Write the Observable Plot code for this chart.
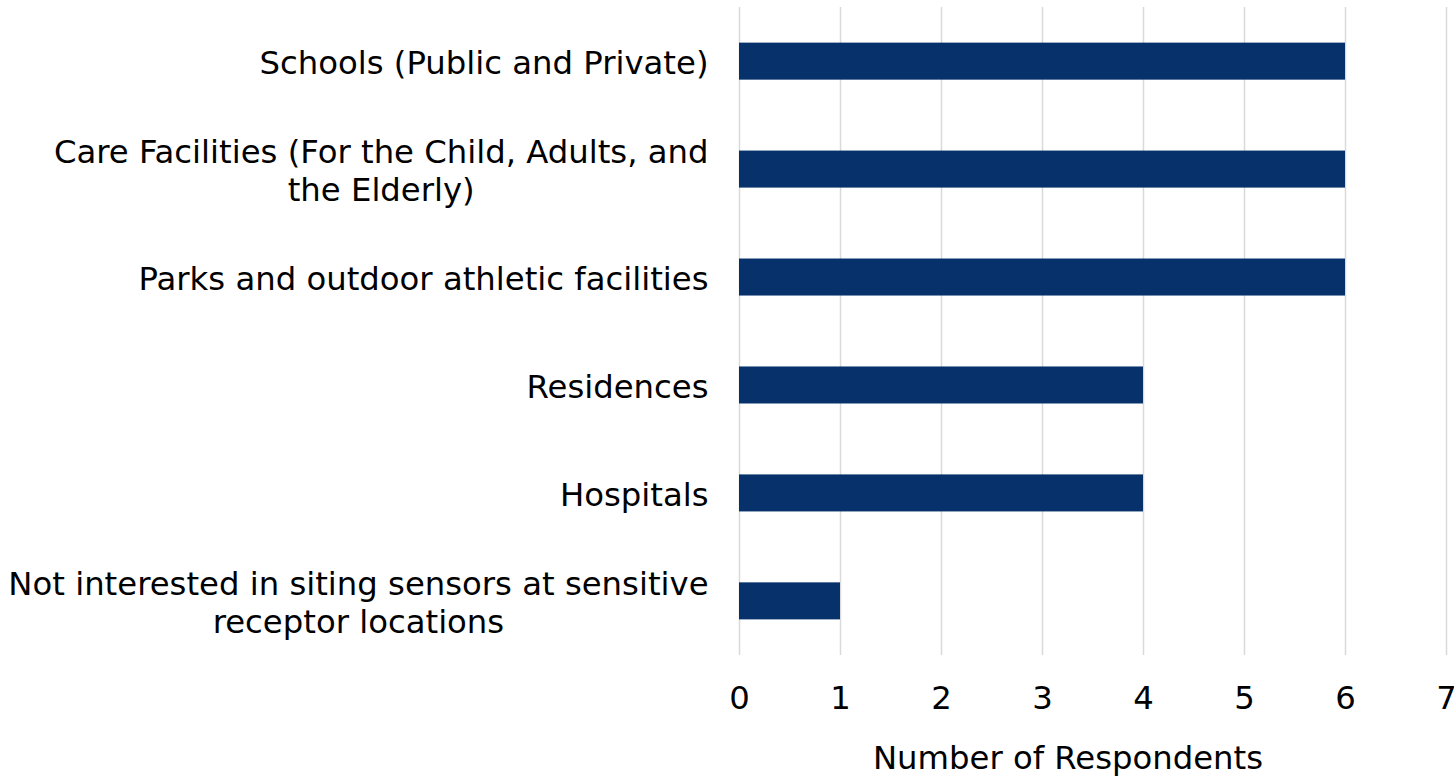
<!DOCTYPE html>
<html>
<head>
<meta charset="utf-8">
<script src="https://cdn.jsdelivr.net/npm/d3@7"></script>
<script src="https://cdn.jsdelivr.net/npm/@observablehq/plot@0.6"></script>
<style>
  html, body { margin: 0; padding: 0; background: #fff; }
  #chart svg { display: block; }
</style>
</head>
<body>
<div id="chart"></div>
<script>
const categories = [
  "Schools (Public and Private)",
  "Care Facilities (For the Child, Adults, and the Elderly)",
  "Parks and outdoor athletic facilities",
  "Residences",
  "Hospitals",
  "Not interested in siting sensors at sensitive receptor locations"
];
const labelLines = [
  ["Schools (Public and Private)"],
  ["Care Facilities (For the Child, Adults, and", "the Elderly)"],
  ["Parks and outdoor athletic facilities"],
  ["Residences"],
  ["Hospitals"],
  ["Not interested in siting sensors at sensitive", "receptor locations"]
];
const respondents = [6, 6, 6, 4, 4, 1];
const xTicks = [0, 1, 2, 3, 4, 5, 6, 7];
const xTitle = "Number of Respondents";

const fontSize = 32.3;
const fontFamily = '"DejaVu Sans", Verdana, sans-serif';
const ctx = document.createElement("canvas").getContext("2d");
ctx.font = `${fontSize}px "DejaVu Sans"`;

const data = categories.map((c, i) => ({category: c, value: respondents[i]}));

const labelMarks = categories.map((c, i) => {
  const w = d3.max(labelLines[i], l => ctx.measureText(l).width);
  return Plot.text([c], {
    y: d => d,
    text: () => labelLines[i].join("\n"),
    frameAnchor: "left",
    textAnchor: "middle",
    dx: -31 - w / 2,
    lineHeight: 1.18,
    fill: "#000",
    fontSize
  });
});

const chart = Plot.plot({
  width: 1454,
  height: 777,
  marginLeft: 739,
  marginRight: 8,
  marginTop: 7,
  marginBottom: 122,
  style: {fontFamily, fontSize: fontSize + "px", color: "#000", background: "#fff", overflow: "visible"},
  x: {domain: [0, 7], ticks: xTicks, label: null},
  y: {domain: categories, paddingInner: 0.657, paddingOuter: 0.33, round: false, axis: null},
  marks: [
    Plot.gridX(xTicks, {stroke: "#d9d9d9", strokeOpacity: 1, strokeWidth: 1.5}),
    Plot.barX(data, {y: "category", x: "value", fill: "#06316b"}),
    Plot.axisX(xTicks, {tickSize: 0, tickPadding: 31, fontSize, fill: "#000", label: null}),
    ...labelMarks,
    Plot.text([xTitle], {
      frameAnchor: "bottom",
      dx: -25,
      dy: 113,
      fontSize,
      fill: "#000"
    })
  ]
});
document.getElementById("chart").appendChild(chart);
</script>
</body>
</html>
